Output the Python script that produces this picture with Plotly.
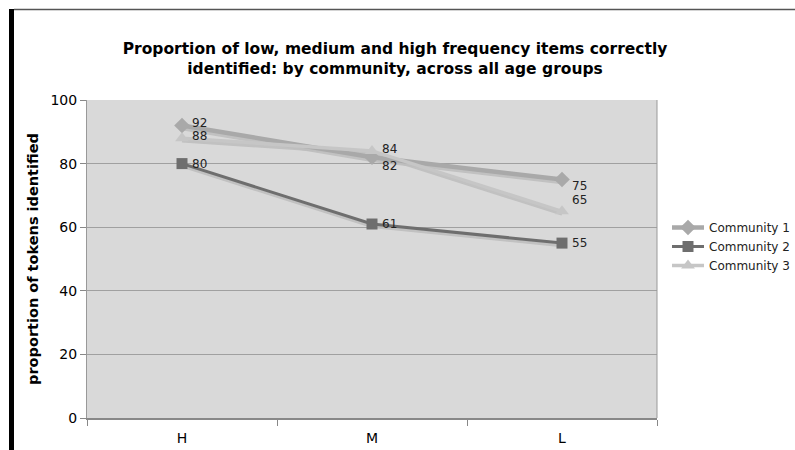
import plotly.graph_objects as go

categories = ["H", "M", "L"]
community1 = [92, 82, 75]
community2 = [80, 61, 55]
community3 = [88, 84, 65]
series_names = ["Community 1", "Community 2", "Community 3"]
y_ticks = [0, 20, 40, 60, 80, 100]

L, R, T, B = 87, 138, 100, 32
W, H = 795, 450
pw, ph = W - L - R, H - T - B

def px(x):
    return (x - L) / pw

def py(y):
    return (H - B - y) / ph

fig = go.Figure()

styles = [
    dict(color="#A9A9A9", symbol="diamond", size=12, width=4.5,
         off=[(0, 2), (0, -9), (0, -6)]),
    dict(color="#6E6E6E", symbol="square", size=11, width=3,
         off=[(0, 0), (0, 0), (0, 0)]),
    dict(color="#C6C6C6", symbol="triangle-up", size=12, width=3.5,
         off=[(0, 2), (0, 2), (0, 11)]),
]
data = [community1, community2, community3]

for vals, st in zip(data, styles):
    fig.add_trace(go.Scatter(
        x=categories, y=[v - 0.8 for v in vals], mode="lines",
        line=dict(color="rgba(190,190,190,0.9)", width=st["width"]),
        showlegend=False, hoverinfo="skip"))

for name, vals, st in zip(series_names, data, styles):
    fig.add_trace(go.Scatter(
        x=categories, y=vals, name=name, mode="lines+markers",
        line=dict(color=st["color"], width=st["width"]),
        marker=dict(symbol=st["symbol"], size=st["size"], color=st["color"])))
    for c, v, (dx, dy) in zip(categories, vals, st["off"]):
        fig.add_annotation(x=c, y=v, text=str(v), showarrow=False,
                           xanchor="left", yanchor="middle",
                           xshift=8 + dx, yshift=dy,
                           font=dict(family="DejaVu Sans", size=12, color="#222222"))

fig.update_layout(
    width=W, height=H,
    margin=dict(l=L, r=R, t=T, b=B, autoexpand=False),
    paper_bgcolor="white", plot_bgcolor="#D9D9D9",
    title=dict(
        text="<b>Proportion of low, medium and high frequency items correctly<br>identified: by community, across all age groups</b>",
        x=395 / W, xanchor="center", y=1 - 54 / H, yanchor="middle",
        font=dict(family="DejaVu Sans", size=15.5, color="black")),
    font=dict(family="DejaVu Sans", color="black"),
    legend=dict(x=px(667), y=py(213), xanchor="left", yanchor="top",
                font=dict(size=12, color="#222222"), bgcolor="rgba(0,0,0,0)",
                itemwidth=32, tracegroupgap=0),
    showlegend=True,
)
fig.update_xaxes(
    type="category", range=[-0.5, 2.5], tickson="boundaries",
    ticks="outside", ticklen=6, tickcolor="#888888", ticklabelstandoff=6,
    showgrid=False, showline=True, linecolor="#888888", linewidth=2,
    tickfont=dict(size=14, color="black"), zeroline=False, mirror=False)
fig.update_yaxes(
    range=[0, 100], tickvals=y_ticks, ticks="outside", ticklen=6,
    tickcolor="#888888", showgrid=True, gridcolor="#A0A0A0", gridwidth=1,
    showline=True, linecolor="#999999", zeroline=False,
    tickfont=dict(size=14, color="black"),
    title=dict(text="<b>proportion of tokens identified</b>",
               font=dict(size=14.5, color="black"), standoff=8))

fig.add_shape(type="line", xref="paper", yref="paper", x0=1, x1=1, y0=0, y1=1,
              line=dict(color="#999999", width=1))
fig.add_shape(type="rect", xref="paper", yref="paper",
              x0=px(9), x1=px(14), y0=py(451), y1=py(9),
              fillcolor="black", line=dict(width=0), layer="above")
fig.add_shape(type="line", xref="paper", yref="paper",
              x0=px(14), x1=px(796), y0=py(9.5), y1=py(9.5),
              line=dict(color="#555555", width=1.5))

fig.write_html("out.html", config={"displayModeBar": False},
               post_script="document.body.style.margin='0';document.body.style.overflow='hidden';")
